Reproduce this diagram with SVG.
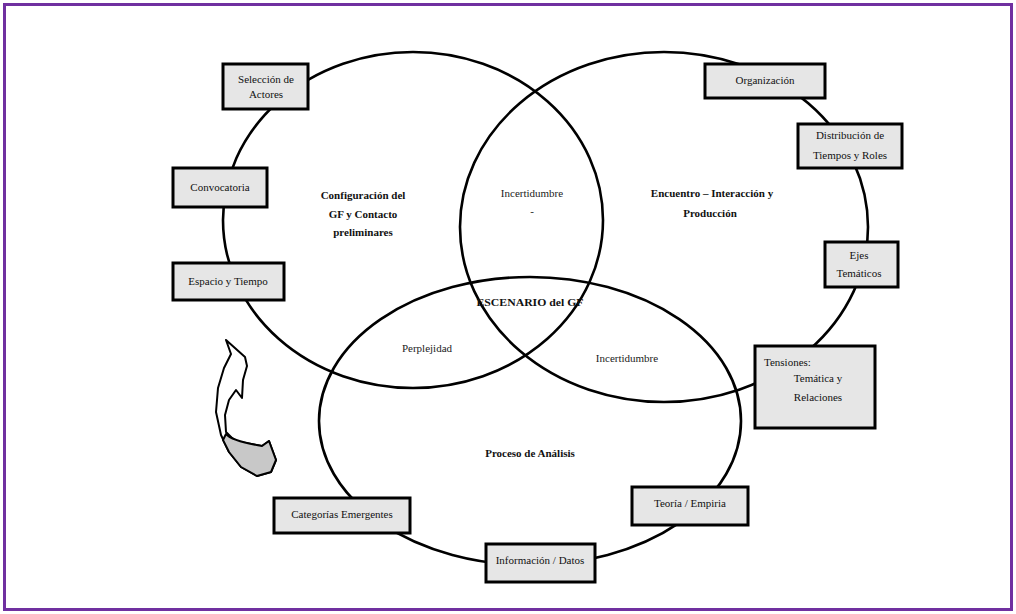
<svg xmlns="http://www.w3.org/2000/svg" width="1016" height="614" viewBox="0 0 1016 614">
<style>
.ell{fill:none;stroke:#000;stroke-width:2.6}
.box{fill:#e6e6e6;stroke:#000;stroke-width:3}
.bt{font-family:"Liberation Serif","Times New Roman",serif;font-size:11px;fill:#111;text-anchor:middle}
.st{text-anchor:start}
.lb{font-family:"Liberation Serif","Times New Roman",serif;font-size:11px;fill:#111;text-anchor:middle;font-weight:bold}
.nt{font-family:"Liberation Serif","Times New Roman",serif;font-size:11px;fill:#222;text-anchor:middle}
</style>
<rect x="0" y="0" width="1016" height="614" fill="#fff"/>
<rect x="4.5" y="4.5" width="1007" height="605" fill="none" stroke="#7030a0" stroke-width="3"/>

<g id="connectors">
  <ellipse id="circle-config" class="ell" cx="413" cy="220" rx="190" ry="168"/>
  <ellipse id="circle-encuentro" class="ell" cx="664" cy="227" rx="204" ry="175"/>
  <ellipse id="circle-analisis" class="ell" cx="530" cy="421" rx="211" ry="144"/>
</g>

<g id="label-config">
  <text class="lb" x="363" y="199">Configuración del</text>
  <text class="lb" x="363" y="218">GF y Contacto</text>
  <text class="lb" x="363" y="236">preliminares</text>
</g>
<g id="label-encuentro">
  <text class="lb" x="712" y="197">Encuentro – Interacción y</text>
  <text class="lb" x="710" y="217">Producción</text>
</g>
<g id="label-analisis">
  <text class="lb" x="530" y="457">Proceso de Análisis</text>
</g>
<g id="label-escenario">
  <text class="lb" x="530" y="306" font-size="12" textLength="107" lengthAdjust="spacingAndGlyphs">ESCENARIO del GF</text>
</g>
<g id="label-incertidumbre-1">
  <text class="nt" x="532" y="197">Incertidumbre</text>
  <text class="nt" x="532" y="215">-</text>
</g>
<g id="label-perplejidad">
  <text class="nt" x="427" y="352">Perplejidad</text>
</g>
<g id="label-incertidumbre-2">
  <text class="nt" x="627" y="362">Incertidumbre</text>
</g>

<g id="node-seleccion">
  <rect class="box" x="223" y="64" width="85" height="45"/>
  <text class="bt" x="266" y="83">Selección de</text>
  <text class="bt" x="266" y="98">Actores</text>
</g>
<g id="node-convocatoria">
  <rect class="box" x="173" y="168" width="94" height="39" stroke-width="4"/>
  <text class="bt" x="220" y="191">Convocatoria</text>
</g>
<g id="node-espacio">
  <rect class="box" x="173" y="263" width="111" height="37"/>
  <text class="bt" x="228" y="285">Espacio y Tiempo</text>
</g>
<g id="node-organizacion">
  <rect class="box" x="705" y="64" width="120" height="34"/>
  <text class="bt" x="765" y="84">Organización</text>
</g>
<g id="node-distribucion">
  <rect class="box" x="798" y="124" width="104" height="44"/>
  <text class="bt" x="850" y="139">Distribución de</text>
  <text class="bt" x="850" y="159">Tiempos y Roles</text>
</g>
<g id="node-ejes">
  <rect class="box" x="825" y="242" width="73" height="45"/>
  <text class="bt" x="859" y="259">Ejes</text>
  <text class="bt" x="859" y="277">Temáticos</text>
</g>
<g id="node-tensiones">
  <rect class="box" x="755" y="346" width="120" height="82"/>
  <text class="bt st" x="764" y="366">Tensiones:</text>
  <text class="bt" x="818" y="382">Temática y</text>
  <text class="bt" x="818" y="401">Relaciones</text>
</g>
<g id="node-categorias">
  <rect class="box" x="274" y="498" width="136" height="35"/>
  <text class="bt" x="342" y="518">Categorías Emergentes</text>
</g>
<g id="node-informacion">
  <rect class="box" x="486" y="544" width="109" height="38"/>
  <text class="bt" x="540" y="564">Información / Datos</text>
</g>
<g id="node-teoria">
  <rect class="box" x="632" y="487" width="116" height="38"/>
  <text class="bt" x="690" y="507">Teoría / Empiria</text>
</g>

<g id="cycle-arrow">
  <path d="M226,340 L245,357 L247,366 L243,380 L242,398 L236,390 L229,400 L225,415 L226,432 L235,441 L262,446 L269,441 L276,460 L271,472 L257,476 L241,467 L229,452 L221,435 L216,412 L218,388 L224,368 L231,354 Z" fill="#fff" stroke="#000" stroke-width="2" stroke-linejoin="round"/>
  <path d="M226,434 Q232,441 262,446 L269,441 L276,460 L271,472 L257,476 L241,467 L229,452 L223,440 Z" fill="#c8c8c8" stroke="#000" stroke-width="2" stroke-linejoin="round"/>
</g>
</svg>
